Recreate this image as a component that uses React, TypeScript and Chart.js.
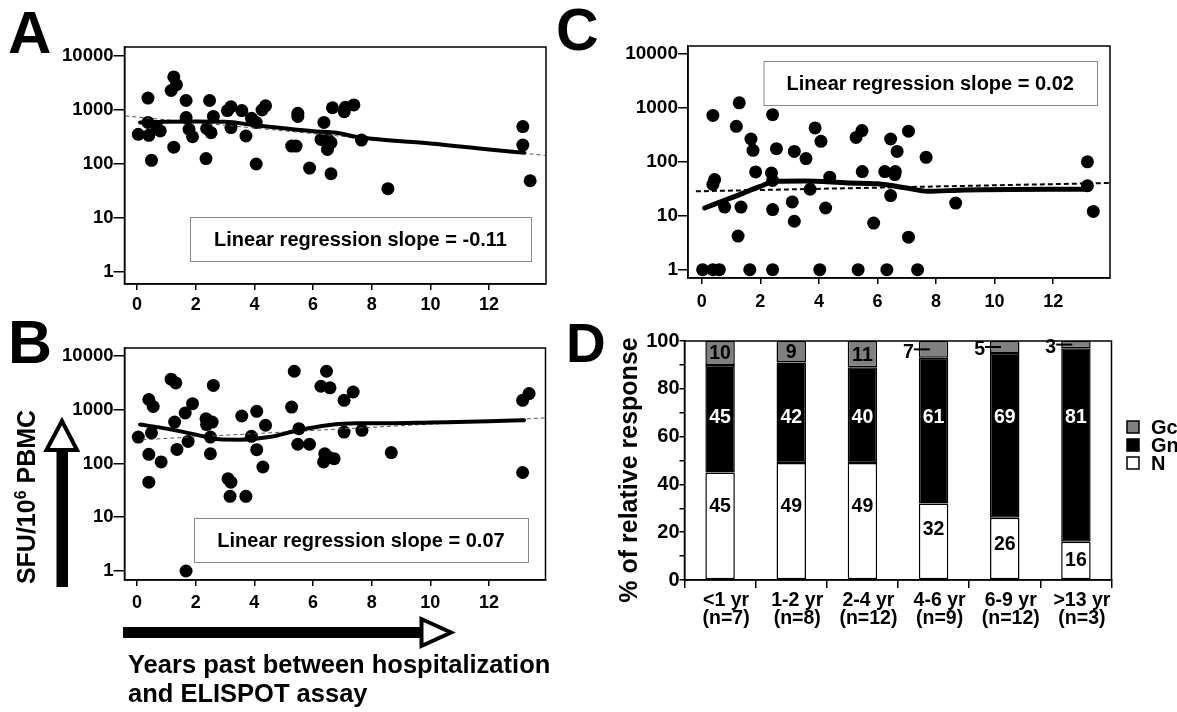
import React, { useEffect, useRef } from 'react';
import { Chart, registerables } from 'chart.js';
Chart.register(...registerables);

const FONT = '"Liberation Sans", Arial, Helvetica, sans-serif';
Chart.defaults.font.family = FONT;
Chart.defaults.color = '#000';

// ---------- shared ticks ----------
const xTickVals = [0, 2, 4, 6, 8, 10, 12];
const yTickVals = [1, 10, 100, 1000, 10000];

// ---------- Panel A ----------
const aYears = [0.04, 0.37, 0.37, 0.40, 0.49, 0.79, 0.67, 1.16, 1.25, 1.34, 1.25, 1.67, 1.67, 1.77, 1.89, 2.35, 2.47, 2.37, 2.52, 2.60, 3.08, 3.20, 3.20, 3.57, 3.71, 3.90, 4.06, 4.06, 4.26, 4.38, 5.27, 5.42, 5.48, 5.48, 5.88, 6.37, 6.27, 6.52, 6.61, 6.49, 6.61, 6.66, 7.06, 7.10, 7.39, 7.65, 8.55, 13.15, 13.15, 13.40];
const aSFU = [355, 1660, 590, 340, 117, 410, 473, 2300, 4100, 2950, 205, 1500, 725, 440, 320, 126, 1500, 455, 380, 760, 975, 1150, 473, 975, 330, 700, 590, 100, 1000, 1200, 215, 215, 870, 760, 84, 590, 285, 277, 248, 186, 66, 1100, 930, 1120, 1240, 277, 35, 493, 224, 49];
const aLowessX = [0.1, 1, 2, 3, 4, 5, 6, 6.8, 7.4, 8, 10, 12, 13.2];
const aLowessY = [589, 603, 610, 603, 524, 458, 405, 380, 322, 293, 240, 186, 161];
const aRegX = [-0.4, 13.9];
const aRegY = [776, 145];
const aSlopeText = 'Linear regression slope = -0.11';

// ---------- Panel B ----------
const bYears = [0.04, 0.40, 0.55, 0.49, 0.40, 0.40, 0.82, 1.16, 1.32, 1.28, 1.36, 1.64, 1.89, 1.74, 1.67, 2.35, 2.37, 2.56, 2.50, 2.50, 2.60, 3.10, 3.20, 3.17, 3.57, 3.71, 3.90, 4.08, 4.08, 4.38, 4.29, 5.27, 5.36, 5.52, 5.48, 5.88, 6.27, 6.46, 6.58, 6.40, 6.36, 6.52, 6.72, 7.06, 7.37, 7.06, 7.67, 8.67, 13.15, 13.37, 13.15];
const bSFU = [310, 1550, 1150, 370, 148, 45, 107, 3700, 3150, 590, 183, 870, 1300, 258, 1, 680, 530, 590, 310, 152, 2840, 52, 45, 24.5, 765, 24.5, 320, 935, 181, 515, 86, 1120, 5200, 445, 228, 228, 2740, 5200, 2560, 152, 107, 132, 123, 1500, 2140, 385, 415, 160, 1500, 2000, 68];
const bLowessX = [0.1, 1, 2, 2.8, 3.5, 4.5, 5.5, 6.5, 7.5, 8.5, 10, 12, 13.2];
const bLowessY = [530, 446, 345, 282, 278, 310, 415, 515, 560, 560, 580, 610, 640];
const bRegX = [0.18, 13.9];
const bRegY = [277, 705];
const bSlopeText = 'Linear regression slope = 0.07';

// ---------- Panel C ----------
const cYears = [0.03, 0.38, 0.60, 0.38, 0.44, 0.38, 0.78, 1.18, 1.28, 1.34, 1.24, 1.64, 1.68, 1.75, 1.84, 2.42, 2.55, 2.38, 2.42, 2.42, 2.42, 3.16, 3.09, 3.16, 3.56, 3.70, 3.87, 4.07, 4.37, 4.23, 4.03, 5.27, 5.47, 5.48, 5.87, 5.34, 6.45, 6.67, 6.25, 6.61, 6.59, 6.45, 6.32, 7.06, 7.06, 7.37, 7.66, 8.67, 13.17, 13.17, 13.37];
const cSFU = [1, 1, 1, 725, 47, 38, 14.5, 455, 1240, 14.5, 4.2, 1, 265, 163, 65, 750, 175, 62, 45, 13, 1, 156, 18, 7.9, 115, 31, 425, 240, 52, 13.9, 1, 283, 380, 66, 7.3, 1, 265, 156, 66, 66, 58, 23.6, 1, 370, 4, 1, 121, 17.2, 100, 36, 12];
const cLowessX = [0.1, 1, 2, 2.5, 3.5, 5, 6, 7, 7.7, 9, 13.2];
const cLowessY = [13.9, 21.4, 35, 43.5, 44, 40.5, 39, 32.6, 28.4, 30, 31];
const cRegX = [-0.2, 13.94];
const cRegY = [28.4, 40.5];
const cSlopeText = 'Linear regression slope = 0.02';

// ---------- Panel D ----------
const dCategories = [['<1 yr', '(n=7)'], ['1-2 yr', '(n=8)'], ['2-4 yr', '(n=12)'], ['4-6 yr', '(n=9)'], ['6-9 yr', '(n=12)'], ['>13 yr', '(n=3)']];
const dN = [45, 49, 49, 32, 26, 16];
const dGn = [45, 42, 40, 61, 69, 81];
const dGc = [10, 9, 11, 7, 5, 3];
const dYTitle = '% of relative response';

const framePlugin = {
  id: 'frame',
  afterDraw(chart: any, _args: any, opts: any) {
    const { ctx, chartArea: a } = chart;
    ctx.save();
    ctx.strokeStyle = '#000';
    ctx.lineWidth = 1.5;
    ctx.strokeRect(a.left, a.top, a.right - a.left, a.bottom - a.top);
    if (opts && opts.box) {
      const b = opts.box;
      ctx.fillStyle = '#fff';
      ctx.fillRect(b.x, b.y, b.w, b.h);
      ctx.strokeStyle = '#8a8a8a';
      ctx.lineWidth = 1;
      ctx.strokeRect(b.x + 0.5, b.y + 0.5, b.w, b.h);
      ctx.fillStyle = '#000';
      ctx.font = 'bold 20px ' + FONT;
      ctx.textAlign = 'center';
      ctx.textBaseline = 'middle';
      ctx.fillText(opts.text, b.x + b.w / 2, b.y + b.h / 2 + 1);
    }
    ctx.restore();
  },
};

type PanelCfg = {
  left: number; top: number; w: number; h: number;
  area: { left: number; top: number; right: number; bottom: number };
  xMin: number; xMax: number; yMin: number; yMax: number; yTickLen: number; xPad: number; yFont: number;
  xs: number[]; ys: number[]; lx: number[]; ly: number[]; rx: number[]; ry: number[];
  lowessWidth: number; regColor: string; regWidth: number; regDash: number[];
  box: { x: number; y: number; w: number; h: number }; text: string;
};

const panels: PanelCfg[] = [
  {
    left: 0, top: 0, w: 560, h: 315, area: { left: 124.5, top: 47, right: 546, bottom: 284 },
    xMin: -0.43, xMax: 13.94, yMin: 0.6, yMax: 14680, yTickLen: 11, xPad: 4, yFont: 18.5,
    xs: aYears, ys: aSFU, lx: aLowessX, ly: aLowessY, rx: aRegX, ry: aRegY,
    lowessWidth: 4, regColor: '#555', regWidth: 1, regDash: [4, 3],
    box: { x: 190, y: 217, w: 341, h: 44 }, text: aSlopeText,
  },
  {
    left: 0, top: 315, w: 560, h: 300, area: { left: 124.5, top: 33, right: 545.5, bottom: 265 },
    xMin: -0.43, xMax: 13.93, yMin: 0.68, yMax: 14090, yTickLen: 11, xPad: 6, yFont: 18.5,
    xs: bYears, ys: bSFU, lx: bLowessX, ly: bLowessY, rx: bRegX, ry: bRegY,
    lowessWidth: 4, regColor: '#555', regWidth: 1, regDash: [4, 3],
    box: { x: 194, y: 203, w: 334, h: 44 }, text: bSlopeText,
  },
  {
    left: 560, top: 0, w: 617, h: 315, area: { left: 128, top: 46, right: 550, bottom: 278 },
    xMin: -0.47, xMax: 13.94, yMin: 0.711, yMax: 14060, yTickLen: 10, xPad: 7, yFont: 19,
    xs: cYears, ys: cSFU, lx: cLowessX, ly: cLowessY, rx: cRegX, ry: cRegY,
    lowessWidth: 5, regColor: '#000', regWidth: 2, regDash: [5, 3],
    box: { x: 203.5, y: 61, w: 333.5, h: 44 }, text: cSlopeText,
  },
];

function ScatterPanel({ p }: { p: PanelCfg }) {
  const ref = useRef<HTMLCanvasElement>(null);
  useEffect(() => {
    const chart = new Chart(ref.current as HTMLCanvasElement, {
      type: 'scatter',
      data: {
        datasets: [
          {
            type: 'line',
            data: p.lx.map((x, i) => ({ x, y: p.ly[i] })),
            borderColor: '#000', borderWidth: p.lowessWidth, pointRadius: 0,
            showLine: true, fill: false, cubicInterpolationMode: 'monotone',
            borderCapStyle: 'round',
          } as any,
          {
            type: 'line',
            data: p.rx.map((x, i) => ({ x, y: p.ry[i] })),
            borderColor: p.regColor, borderWidth: p.regWidth, borderDash: p.regDash,
            pointRadius: 0, showLine: true, fill: false,
          } as any,
          {
            type: 'scatter',
            data: p.xs.map((x, i) => ({ x, y: p.ys[i] })),
            backgroundColor: '#000', borderColor: '#000', borderWidth: 0, pointRadius: 6.5,
          } as any,
        ],
      },
      options: {
        animation: false,
        responsive: true,
        maintainAspectRatio: false,
        layout: { padding: { left: 0, top: p.area.top, right: p.w - p.area.right, bottom: 0 } },
        plugins: {
          legend: { display: false },
          tooltip: { enabled: false },
          frame: { box: p.box, text: p.text },
        } as any,
        scales: {
          x: {
            type: 'linear', min: p.xMin, max: p.xMax,
            afterFit: (s: any) => { s.height = p.h - p.area.bottom; },
            afterBuildTicks: (s: any) => { s.ticks = xTickVals.map((v) => ({ value: v })); },
            ticks: { font: { size: 18, weight: 'bold' }, color: '#000', padding: p.xPad, maxRotation: 0, autoSkip: false, callback: (v: any) => String(v) },
            grid: { drawOnChartArea: false, drawTicks: true, tickLength: 6, color: '#000', lineWidth: 1.5 },
            border: { display: true, color: '#000', width: 1.5 },
          },
          y: {
            type: 'logarithmic', min: p.yMin, max: p.yMax,
            afterFit: (s: any) => { s.width = p.area.left; },
            afterBuildTicks: (s: any) => { s.ticks = yTickVals.map((v) => ({ value: v })); },
            ticks: { font: { size: p.yFont, weight: 'bold' }, color: '#000', padding: 0, autoSkip: false, callback: (v: any) => String(v) },
            grid: { drawOnChartArea: false, drawTicks: true, tickLength: p.yTickLen, color: '#000', lineWidth: 1.5 },
            border: { display: true, color: '#000', width: 1.5 },
          },
        },
      } as any,
      plugins: [framePlugin],
    });
    return () => chart.destroy();
  }, [p]);
  return (
    <div style={{ position: 'absolute', left: p.left, top: p.top, width: p.w, height: p.h }}>
      <canvas ref={ref} />
    </div>
  );
}

const dLabelsPlugin = {
  id: 'dLabels',
  afterDatasetsDraw(chart: any) {
    const { ctx } = chart;
    const y = chart.scales.y;
    ctx.save();
    ctx.font = 'bold 19.5px ' + FONT;
    ctx.textBaseline = 'middle';
    const metaN = chart.getDatasetMeta(0);
    for (let i = 0; i < dN.length; i++) {
      const bar = metaN.data[i];
      const { x, width } = bar.getProps(['x', 'width'], true);
      const left = x - width / 2;
      ctx.textAlign = 'center';
      ctx.fillStyle = '#000';
      const nPos = Math.min(30.5, Math.max(dN[i] / 2, dN[i] - 11));
      ctx.fillText(String(dN[i]), x, y.getPixelForValue(nPos));
      ctx.fillStyle = '#fff';
      ctx.fillText(String(dGn[i]), x, y.getPixelForValue(67.8));
      ctx.fillStyle = '#000';
      const mid = 100 - dGc[i] / 2;
      const py = y.getPixelForValue(mid);
      if (dGc[i] >= 9) {
        ctx.fillText(String(dGc[i]), x, py + 1);
      } else {
        ctx.textAlign = 'right';
        ctx.fillText(String(dGc[i]), left - 5, py + 3);
        ctx.strokeStyle = '#000';
        ctx.lineWidth = 2;
        ctx.beginPath();
        ctx.moveTo(left - 5, py);
        ctx.lineTo(left + 11, py);
        ctx.stroke();
      }
    }
    ctx.restore();
  },
  afterDraw(chart: any) {
    const { ctx, chartArea: a } = chart;
    ctx.save();
    ctx.strokeStyle = '#000';
    ctx.lineWidth = 1.5;
    ctx.strokeRect(a.left, a.top, a.right - a.left, a.bottom - a.top);
    // y title
    ctx.save();
    ctx.translate(77, 155);
    ctx.rotate(-Math.PI / 2);
    ctx.font = 'bold 25px ' + FONT;
    ctx.textAlign = 'center';
    ctx.textBaseline = 'alphabetic';
    ctx.fillStyle = '#000';
    ctx.fillText(dYTitle, 0, 0);
    ctx.restore();
    // legend (reverse order of stacking)
    const ds = chart.data.datasets;
    ctx.font = 'bold 20px ' + FONT;
    ctx.textAlign = 'left';
    ctx.textBaseline = 'middle';
    for (let k = 0; k < ds.length; k++) {
      const d = ds[ds.length - 1 - k];
      const cy = 112 + k * 18;
      ctx.fillStyle = d.backgroundColor;
      ctx.fillRect(567, cy - 6, 12, 12);
      ctx.strokeStyle = '#000';
      ctx.lineWidth = 1.5;
      ctx.strokeRect(567, cy - 6, 12, 12);
      ctx.fillStyle = '#000';
      ctx.fillText(d.label, 591, cy + 1);
    }
    ctx.restore();
  },
};

function BarPanel() {
  const ref = useRef<HTMLCanvasElement>(null);
  useEffect(() => {
    const common = { borderColor: '#000', borderWidth: 1.5, borderSkipped: false, barPercentage: 0.414, categoryPercentage: 1.0 };
    const chart = new Chart(ref.current as HTMLCanvasElement, {
      type: 'bar',
      data: {
        labels: dCategories as any,
        datasets: [
          { label: 'N', data: dN, backgroundColor: '#ffffff', ...common } as any,
          { label: 'Gn', data: dGn, backgroundColor: '#000000', ...common } as any,
          { label: 'Gc', data: dGc, backgroundColor: '#808080', ...common } as any,
        ],
      },
      options: {
        animation: false,
        responsive: true,
        maintainAspectRatio: false,
        layout: { padding: { left: 0, top: 26, right: 65.5, bottom: 0 } },
        plugins: { legend: { display: false }, tooltip: { enabled: false } },
        scales: {
          x: {
            stacked: true,
            afterFit: (s: any) => { s.height = 65; },
            ticks: { font: { size: 19.5, weight: 'bold', lineHeight: 0.92 }, color: '#000', padding: 4, labelOffset: 6, maxRotation: 0, autoSkip: false },
            grid: { offset: true, drawOnChartArea: false, drawTicks: true, tickLength: 8, color: '#000', lineWidth: 1.5 },
            border: { display: true, color: '#000', width: 1.5 },
          },
          y: {
            stacked: true, min: 0, max: 100,
            afterFit: (s: any) => { s.width = 124.5; },
            ticks: { stepSize: 10, font: { size: 20, weight: 'bold' }, color: '#000', padding: 0, autoSkip: false, callback: (v: any) => (v % 20 === 0 ? String(v) : '') },
            grid: { drawOnChartArea: false, drawTicks: true, tickLength: 5, color: '#000', lineWidth: 1.5 },
            border: { display: true, color: '#000', width: 1.5 },
          },
        },
      } as any,
      plugins: [dLabelsPlugin],
    });
    return () => chart.destroy();
  }, []);
  return (
    <div style={{ position: 'absolute', left: 560, top: 315, width: 617, height: 330 }}>
      <canvas ref={ref} />
    </div>
  );
}

export default function App() {
  return (
    <div style={{ position: 'fixed', left: 0, top: 0, width: 1177, height: 712, background: '#fff', overflow: 'hidden' }}>
      {panels.map((p, i) => (
        <ScatterPanel key={i} p={p} />
      ))}
      <BarPanel />
      <svg width={1177} height={712} style={{ position: 'absolute', left: 0, top: 0, pointerEvents: 'none' }} fontFamily={FONT} fontWeight="bold">
        <text x={8} y={53} fontSize={60}>A</text>
        <text x={8} y={363} fontSize={61}>B</text>
        <text x={556} y={50} fontSize={59}>C</text>
        <text x={566} y={362} fontSize={55}>D</text>
        <rect x={56.5} y={450} width={11.5} height={137} fill="#000" />
        <polygon points="62,421 46.5,450 77,450" fill="#fff" stroke="#000" strokeWidth={4} />
        <rect x={123} y={627} width={298} height={11} fill="#000" />
        <polygon points="451,632.5 421.5,619 421.5,646" fill="#fff" stroke="#000" strokeWidth={4} />
        <text transform="translate(35,497) rotate(-90)" fontSize={25} textAnchor="middle">
          SFU/10<tspan dy={-9} fontSize={16}>6</tspan><tspan dy={9}> PBMC</tspan>
        </text>
        <text x={128} y={673} fontSize={25.5}>Years past between hospitalization</text>
        <text x={128} y={702} fontSize={25.5}>and ELISPOT assay</text>
      </svg>
    </div>
  );
}
